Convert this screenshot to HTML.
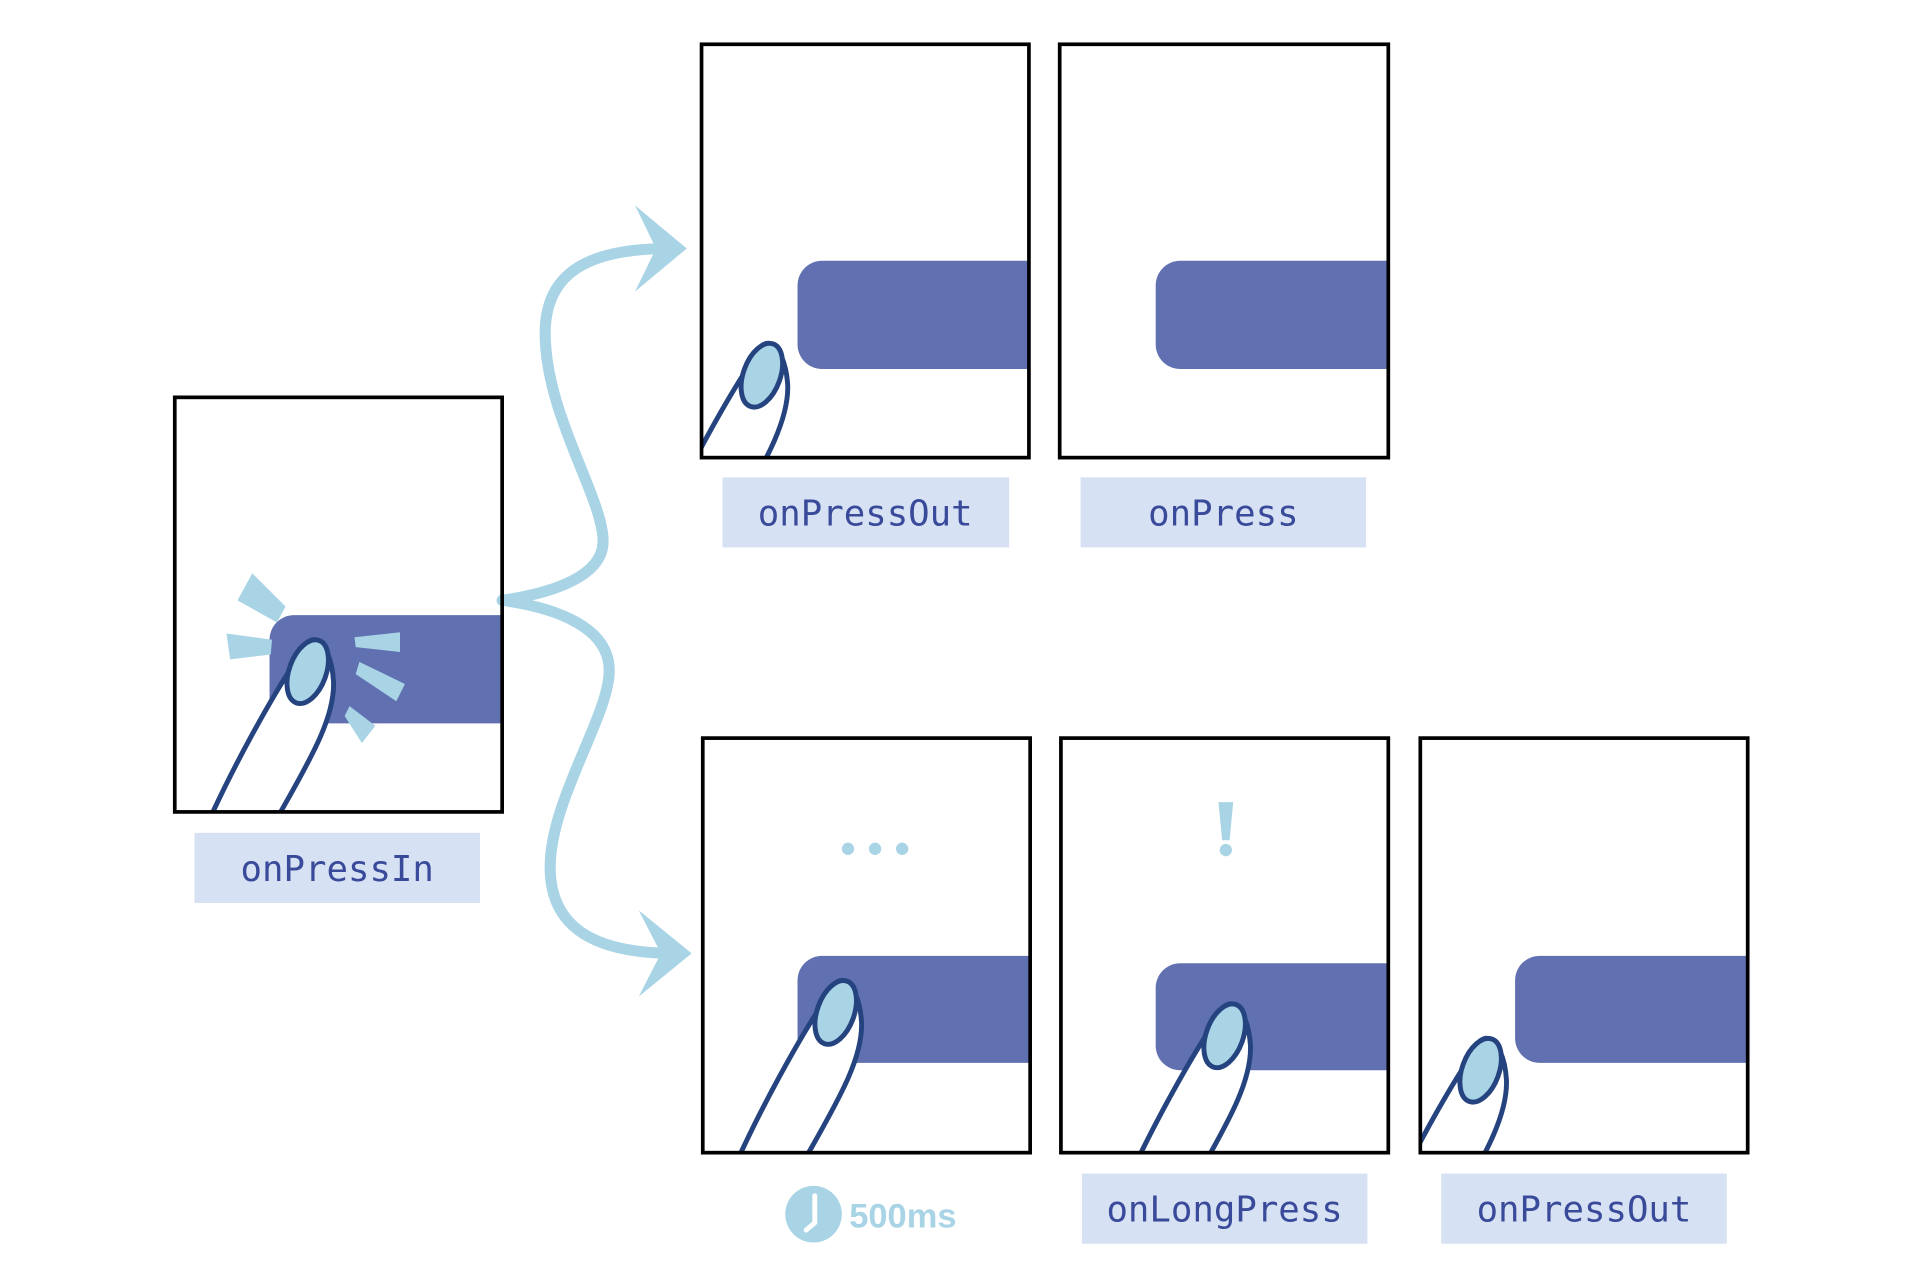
<!DOCTYPE html>
<html><head><meta charset="utf-8"><style>html,body{margin:0;padding:0;background:#fff}svg{display:block}</style></head>
<body>
<svg width="1920" height="1272" viewBox="0 0 1560 1034" preserveAspectRatio="none" xmlns="http://www.w3.org/2000/svg">
<defs>
<clipPath id="c0"><rect x="142" y="323" width="266" height="337"/></clipPath>
<clipPath id="c1"><rect x="570" y="36" width="266" height="336"/></clipPath>
<clipPath id="c2"><rect x="861" y="36" width="267" height="336"/></clipPath>
<clipPath id="c3"><rect x="571" y="600" width="266" height="337"/></clipPath>
<clipPath id="c4"><rect x="862" y="600" width="266" height="337"/></clipPath>
<clipPath id="c5"><rect x="1154" y="600" width="266" height="337"/></clipPath>
<g id="finger">
<path d="M-79,141 C-60,100 -35,55 -18,28 C-10,12 -4,1 3,1 C12,2 18,18 19,35 C20,62 4,92 -24,141" fill="#fff" stroke="#24437f" stroke-width="4" stroke-linejoin="round"/>
<ellipse cx="-2" cy="27" rx="15" ry="27" transform="rotate(20 -2 27)" fill="#a8d4e6" stroke="#24437f" stroke-width="4"/>
</g>
</defs>
<rect width="1560" height="1034" fill="#fff"/>

<!-- arrows -->
<g fill="none" stroke="#a8d4e6" stroke-width="9" stroke-linecap="round">
<path d="M408,488 C450,482 490,468 490,440 C490,405 445,340 443,275 C441,220 480,202 545,202"/>
<path d="M408,488 C452,494 495,510 495,545 C495,582 447,650 447,705 C447,752 480,775 548,775"/>
</g>
<polygon points="558,202 516,167 533,202 516,237" fill="#a8d4e6"/>
<polygon points="562,775 519,740 537,775 519,810" fill="#a8d4e6"/>

<!-- F0 -->
<g clip-path="url(#c0)">
<rect x="219" y="500" width="230" height="88" rx="20" fill="#6070b0"/>
</g>
<g fill="#a8d4e6">
<polygon points="205,466 232,493 225,506 193,488"/>
<polygon points="184,515 221,520 220,532 187,536"/>
<polygon points="288,518 325,514 325,530 289,526"/>
<polygon points="292,538 329,556 322,570 289,548"/>
<polygon points="284,574 305,590 294,604 280,582"/>
</g>
<g clip-path="url(#c0)"><use href="#finger" x="252" y="519"/></g>
<rect x="142" y="323" width="266" height="337" fill="none" stroke="#000" stroke-width="3"/>

<!-- F1 -->
<g clip-path="url(#c1)">
<rect x="648" y="212" width="230" height="88" rx="20" fill="#6070b0"/>
<use href="#finger" x="621" y="278"/>
</g>
<rect x="570" y="36" width="266" height="336" fill="none" stroke="#000" stroke-width="3"/>

<!-- F2 -->
<g clip-path="url(#c2)">
<rect x="939" y="212" width="230" height="88" rx="20" fill="#6070b0"/>
</g>
<rect x="861" y="36" width="267" height="336" fill="none" stroke="#000" stroke-width="3"/>

<!-- F3 -->
<g clip-path="url(#c3)">
<rect x="648" y="777" width="230" height="87" rx="20" fill="#6070b0"/>
<use href="#finger" x="681" y="796"/>
</g>
<g fill="#a8d4e6"><circle cx="689" cy="690" r="5"/><circle cx="711" cy="690" r="5"/><circle cx="733" cy="690" r="5"/></g>
<rect x="571" y="600" width="266" height="337" fill="none" stroke="#000" stroke-width="3"/>

<!-- F4 -->
<g clip-path="url(#c4)">
<rect x="939" y="783" width="230" height="87" rx="20" fill="#6070b0"/>
<use href="#finger" x="997" y="815"/>
</g>
<polygon points="990,652 1002,652 999,683 993,683" fill="#a8d4e6"/>
<circle cx="996" cy="691" r="5" fill="#a8d4e6"/>
<rect x="862" y="600" width="266" height="337" fill="none" stroke="#000" stroke-width="3"/>

<!-- F5 -->
<g clip-path="url(#c5)">
<rect x="1231" y="777" width="230" height="87" rx="20" fill="#6070b0"/>
<use href="#finger" x="1205" y="843"/>
</g>
<rect x="1154" y="600" width="266" height="337" fill="none" stroke="#000" stroke-width="3"/>

<!-- labels -->
<g fill="#d6e2f3">
<rect x="158" y="677" width="232" height="57"/>
<rect x="587" y="388" width="233" height="57"/>
<rect x="878" y="388" width="232" height="57"/>
<rect x="879" y="954" width="232" height="57"/>
<rect x="1171" y="954" width="232" height="57"/>
</g>
<g font-family="DejaVu Sans Mono, Liberation Mono, monospace" font-size="29" fill="#3a4a9a" text-anchor="middle">
<text x="274" y="716">onPressIn</text>
<text x="703" y="427">onPressOut</text>
<text x="994" y="427">onPress</text>
<text x="995" y="993">onLongPress</text>
<text x="1287" y="993">onPressOut</text>
</g>

<!-- clock -->
<circle cx="661" cy="987" r="23" fill="#a8d4e6"/>
<path d="M662,972 L662,994 L655,1000" fill="none" stroke="#fff" stroke-width="4" stroke-linecap="round" stroke-linejoin="round"/>
<text x="690" y="998" font-family="Liberation Sans, sans-serif" font-weight="bold" font-size="28" fill="#a8d4e6">500ms</text>
</svg>
</body></html>
